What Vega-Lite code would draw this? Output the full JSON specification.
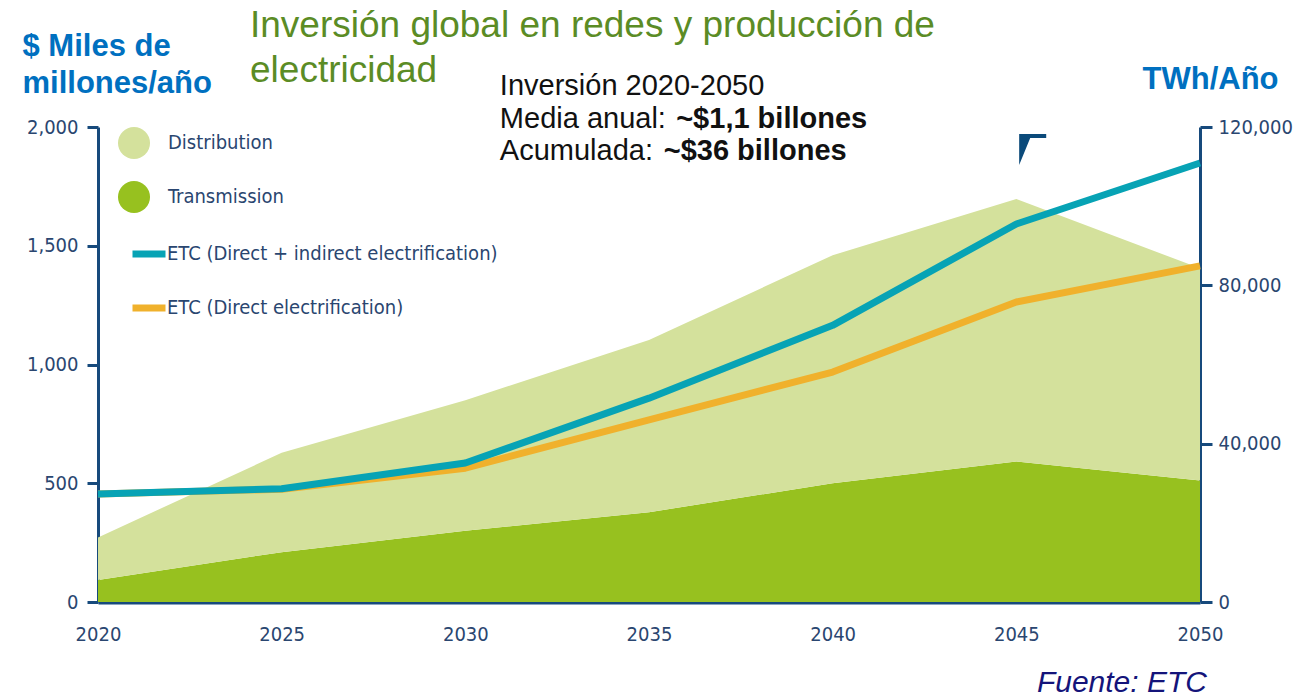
{
  "$schema": "https://vega.github.io/schema/vega-lite/v6.json",
  "width": 1102,
  "height": 475,
  "autosize": {"type": "none"},
  "padding": {"left": 98, "top": 127, "right": 111, "bottom": 96},
  "background": "white",
  "config": {"view": {"stroke": null}, "font": "Liberation Sans"},
  "title": {
    "text": ["Inversión global en redes y producción de", "electricidad"],
    "anchor": "start",
    "frame": "group",
    "dx": 152,
    "offset": -60,
    "baseline": "top",
    "fontSize": 37,
    "font": "Liberation Sans",
    "fontWeight": "normal",
    "color": "#5b8c25",
    "lineHeight": 45
  },
  "datasets": {
    "areas": [
      {"year": 2020, "series": "Transmission", "value": 93},
      {"year": 2025, "series": "Transmission", "value": 210},
      {"year": 2030, "series": "Transmission", "value": 300},
      {"year": 2035, "series": "Transmission", "value": 378},
      {"year": 2040, "series": "Transmission", "value": 500},
      {"year": 2045, "series": "Transmission", "value": 592},
      {"year": 2050, "series": "Transmission", "value": 512},
      {"year": 2020, "series": "Distribution", "value": 179},
      {"year": 2025, "series": "Distribution", "value": 418},
      {"year": 2030, "series": "Distribution", "value": 550},
      {"year": 2035, "series": "Distribution", "value": 725},
      {"year": 2040, "series": "Distribution", "value": 960},
      {"year": 2045, "series": "Distribution", "value": 1105},
      {"year": 2050, "series": "Distribution", "value": 893}
    ],
    "lines": [
      {"year": 2020, "line": "ETC (Direct electrification)", "twh": 27300},
      {"year": 2025, "line": "ETC (Direct electrification)", "twh": 28500},
      {"year": 2030, "line": "ETC (Direct electrification)", "twh": 33800},
      {"year": 2035, "line": "ETC (Direct electrification)", "twh": 46000},
      {"year": 2040, "line": "ETC (Direct electrification)", "twh": 58100},
      {"year": 2045, "line": "ETC (Direct electrification)", "twh": 75800},
      {"year": 2050, "line": "ETC (Direct electrification)", "twh": 84900},
      {"year": 2020, "line": "ETC (Direct + indirect electrification)", "twh": 27300},
      {"year": 2025, "line": "ETC (Direct + indirect electrification)", "twh": 28600},
      {"year": 2030, "line": "ETC (Direct + indirect electrification)", "twh": 35100},
      {"year": 2035, "line": "ETC (Direct + indirect electrification)", "twh": 51500},
      {"year": 2040, "line": "ETC (Direct + indirect electrification)", "twh": 69900},
      {"year": 2045, "line": "ETC (Direct + indirect electrification)", "twh": 95500},
      {"year": 2050, "line": "ETC (Direct + indirect electrification)", "twh": 110900}
    ],
    "notes": [
      {"t": "Inversión 2020-2050"},
      {"t": "Media anual:"},
      {"t": "~$1,1 billones"},
      {"t": "Acumulada:"},
      {"t": "~$36 billones"},
      {"t": "Fuente: ETC"},
      {"t": "marker"}
    ]
  },
  "layer": [
    {
      "layer": [
        {
          "data": {"name": "areas"},
          "mark": {"type": "area", "interpolate": "linear", "opacity": 1},
          "encoding": {
            "x": {
              "field": "year",
              "type": "quantitative",
              "scale": {"domain": [2020, 2050], "nice": false, "zero": false},
              "axis": {
                "title": null,
                "values": [2020, 2025, 2030, 2035, 2040, 2045, 2050],
                "format": "d",
                "grid": false,
                "ticks": false,
                "tickSize": 0,
                "labelPadding": 22,
                "labelFlush": false,
                "domainColor": "#174a7c",
                "domainWidth": 4,
                "labelFont": "DejaVu Sans Condensed",
                "labelFontSize": 20,
                "labelColor": "#2a4670"
              }
            },
            "y": {
              "field": "value",
              "type": "quantitative",
              "stack": "zero",
              "scale": {"domain": [0, 2000], "nice": false},
              "axis": {
                "title": ["$ Miles de", "millones/año"],
                "titleAngle": 0,
                "titleAlign": "left",
                "titleBaseline": "alphabetic",
                "titleX": -76,
                "titleY": -72,
                "titleFont": "Liberation Sans",
                "titleFontSize": 31,
                "titleFontWeight": "bold",
                "titleColor": "#0070c0",
                "titleLineHeight": 37,
                "values": [0, 500, 1000, 1500, 2000],
                "format": ",d",
                "grid": false,
                "domainColor": "#174a7c",
                "domainWidth": 3,
                "tickColor": "#174a7c",
                "tickWidth": 3,
                "tickSize": 11,
                "labelFont": "DejaVu Sans Condensed",
                "labelFontSize": 20,
                "labelColor": "#2a4670",
                "labelPadding": 9
              }
            },
            "fill": {
              "field": "series",
              "type": "nominal",
              "scale": {"domain": ["Distribution", "Transmission"], "range": ["#d4e19c", "#97c11f"]},
              "legend": {
                "orient": "none",
                "legendX": 20,
                "legendY": 0,
                "title": null,
                "padding": 0,
                "symbolType": "circle",
                "symbolSize": 1024,
                "symbolOpacity": 1,
                "symbolStrokeWidth": 0,
                "rowPadding": 22,
                "labelOffset": 18,
                "labelLimit": 0,
                "labelFont": "DejaVu Sans Condensed",
                "labelFontSize": 20,
                "labelColor": "#2a4670"
              }
            }
          }
        },
        {
          "data": {"name": "notes"},
          "transform": [{"filter": "datum.t == 'Inversión 2020-2050'"}],
          "mark": {"type": "text", "align": "left", "baseline": "alphabetic", "fontSize": 29, "font": "Liberation Sans", "color": "#111111"},
          "encoding": {"text": {"field": "t"}, "x": {"datum": 2030.94}, "y": {"datum": 2134.7}}
        },
        {
          "data": {"name": "notes"},
          "transform": [{"filter": "datum.t == 'Media anual:'"}],
          "mark": {"type": "text", "align": "left", "baseline": "alphabetic", "fontSize": 29, "font": "Liberation Sans", "color": "#111111"},
          "encoding": {"text": {"field": "t"}, "x": {"datum": 2030.94}, "y": {"datum": 1995.8}}
        },
        {
          "data": {"name": "notes"},
          "transform": [{"filter": "datum.t == '~$1,1 billones'"}],
          "mark": {"type": "text", "align": "left", "baseline": "alphabetic", "fontSize": 29, "font": "Liberation Sans", "fontWeight": "bold", "color": "#111111"},
          "encoding": {"text": {"field": "t"}, "x": {"datum": 2035.74}, "y": {"datum": 1995.8}}
        },
        {
          "data": {"name": "notes"},
          "transform": [{"filter": "datum.t == 'Acumulada:'"}],
          "mark": {"type": "text", "align": "left", "baseline": "alphabetic", "fontSize": 29, "font": "Liberation Sans", "color": "#111111"},
          "encoding": {"text": {"field": "t"}, "x": {"datum": 2030.94}, "y": {"datum": 1861}}
        },
        {
          "data": {"name": "notes"},
          "transform": [{"filter": "datum.t == '~$36 billones'"}],
          "mark": {"type": "text", "align": "left", "baseline": "alphabetic", "fontSize": 29, "font": "Liberation Sans", "fontWeight": "bold", "color": "#111111"},
          "encoding": {"text": {"field": "t"}, "x": {"datum": 2035.4}, "y": {"datum": 1861}}
        },
        {
          "data": {"name": "notes"},
          "transform": [{"filter": "datum.t == 'Fuente: ETC'"}],
          "mark": {"type": "text", "align": "right", "baseline": "alphabetic", "fontSize": 30, "font": "Liberation Sans", "fontStyle": "italic", "color": "#14147a"},
          "encoding": {"text": {"field": "t"}, "x": {"datum": 2050.19}, "y": {"datum": -379}}
        },
        {
          "data": {"name": "notes"},
          "transform": [{"filter": "datum.t == 'marker'"}],
          "mark": {"type": "point", "filled": true, "opacity": 1, "color": "#0b4a7a", "size": 1024, "shape": "M-0.81,-1L0.88,-1L0.88,-0.75L-0.12,-0.75L-0.81,0.94Z"},
          "encoding": {"x": {"datum": 2045.43}, "y": {"datum": 1903}}
        }
      ]
    },
    {
      "data": {"name": "lines"},
      "mark": {"type": "line", "strokeWidth": 7, "interpolate": "linear", "strokeJoin": "round"},
      "encoding": {
        "x": {"field": "year", "type": "quantitative"},
        "y": {
          "field": "twh",
          "type": "quantitative",
          "scale": {"domain": [0, 120000], "nice": false},
          "axis": {
            "orient": "right",
            "title": "TWh/Año",
            "titleAngle": 0,
            "titleAlign": "left",
            "titleBaseline": "alphabetic",
            "titleX": -58,
            "titleY": -39,
            "titleFont": "Liberation Sans",
            "titleFontSize": 31,
            "titleFontWeight": "bold",
            "titleColor": "#0070c0",
            "values": [0, 40000, 80000, 120000],
            "format": ",d",
            "grid": false,
            "domainColor": "#174a7c",
            "domainWidth": 3,
            "tickColor": "#174a7c",
            "tickWidth": 3,
            "tickSize": 12,
            "labelFont": "DejaVu Sans Condensed",
            "labelFontSize": 20,
            "labelColor": "#2a4670",
            "labelPadding": 6
          }
        },
        "stroke": {
          "field": "line",
          "type": "nominal",
          "sort": null,
          "scale": {
            "domain": ["ETC (Direct + indirect electrification)", "ETC (Direct electrification)"],
            "range": ["#07a3b5", "#f0b12c"]
          },
          "legend": {
            "orient": "none",
            "legendX": 31,
            "legendY": 107,
            "title": null,
            "padding": 0,
            "symbolType": "stroke",
            "symbolSize": 1089,
            "symbolStrokeWidth": 7,
            "rowPadding": 20,
            "labelOffset": -2,
            "labelLimit": 0,
            "labelFont": "DejaVu Sans Condensed",
            "labelFontSize": 20,
            "labelColor": "#2a4670"
          }
        }
      }
    }
  ],
  "resolve": {"scale": {"y": "independent"}}
}
